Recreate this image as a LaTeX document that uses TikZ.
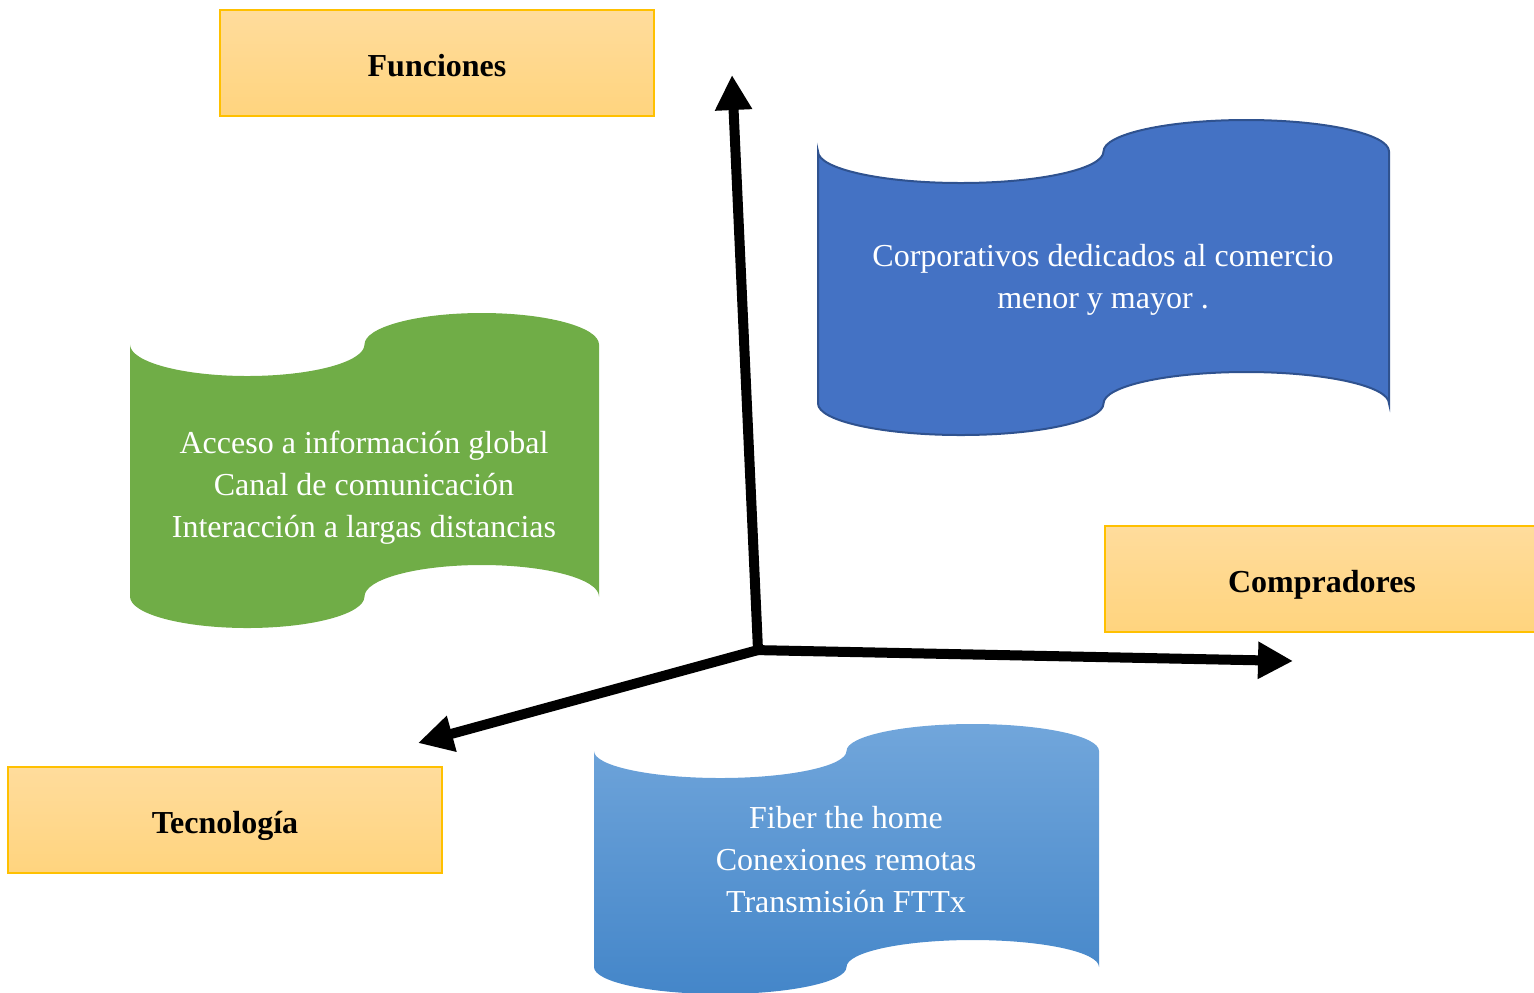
\documentclass[tikz,border=0pt]{standalone}
\usepackage{fontspec}
\setmainfont{Liberation Serif}
\usetikzlibrary{arrows.meta}

\definecolor{labelTop}{HTML}{FFDC9C}
\definecolor{labelBot}{HTML}{FFD47E}
\definecolor{labelEdge}{HTML}{FFC000}
\definecolor{leafGreen}{HTML}{70AD47}
\definecolor{deepBlue}{HTML}{4472C4}
\definecolor{deepBlueEdge}{HTML}{2F528F}
\definecolor{skyTop}{HTML}{71A6DB}
\definecolor{skyBot}{HTML}{4486C9}

% punched-tape banner: #1 style, #2 left, #3 top, #4 width, #5 height (pixel units)
\newcommand\tapebanner[5]{%
  \begin{scope}[shift={(#2,#3)}, x=#4*0.5pt, y=-#5*0.5pt]
    \path[#1] (0,0.1)
      .. controls (0,0.1552) and (0.112,0.2) .. (0.25,0.2)
      .. controls (0.388,0.2) and (0.5,0.1552) .. (0.5,0.1)
      .. controls (0.5,0.0448) and (0.612,0) .. (0.75,0)
      .. controls (0.888,0) and (1,0.0448) .. (1,0.1)
      -- (1,0.9)
      .. controls (1,0.8448) and (0.888,0.8) .. (0.75,0.8)
      .. controls (0.612,0.8) and (0.5,0.8448) .. (0.5,0.9)
      .. controls (0.5,0.9552) and (0.388,1) .. (0.25,1)
      .. controls (0.112,1) and (0,0.9552) .. (0,0.9)
      -- cycle;
  \end{scope}}

\tikzset{
  axislabel/.style={draw=labelEdge, line width=1pt, top color=labelTop,
    bottom color=labelBot, minimum width=217pt, minimum height=53pt,
    inner sep=0pt, text height=13pt, text depth=0pt,
    font=\fontsize{16}{20}\selectfont\bfseries},
  bannertext/.style={text=white, align=center, inner sep=0pt,
    font=\fontsize{16}{21}\selectfont},
  axis/.style={line width=5pt, -{Triangle[length=17.5pt,width=17.5pt]}}
}

\begin{document}
\begin{tikzpicture}[x=0.5pt, y=-0.5pt]
  \useasboundingbox (0,0) rectangle (1534,992);

  % banners
  \tapebanner{fill=leafGreen}{130}{313}{469}{315}
  \tapebanner{fill=deepBlue, draw=deepBlueEdge, line width=1pt}{818}{120}{571}{315}
  \tapebanner{top color=skyTop, bottom color=skyBot}{594}{724}{505}{270}

  \node[bannertext] (uses) at (364,488)
    {Acceso a información global\\Canal de comunicación\\Interacción a largas distancias};
  \node[bannertext] (buyers) at (1103,280)
    {Corporativos dedicados al comercio\\menor y mayor .};
  \node[bannertext] (tech) at (846,860)
    {Fiber the home\\Conexiones remotas\\Transmisión FTTx};

  % axis labels
  \node[axislabel] (funciones) at (437,63) {Funciones};
  \node[axislabel] (compradores) at (1322,579) {Compradores};
  \node[axislabel] (tecnologia) at (225,820) {Tecnología};

  % axes
  \coordinate (origin) at (758,650);
  \coordinate (upEnd) at (732,75);
  \coordinate (rightEnd) at (1293,661);
  \coordinate (leftEnd) at (418,743);
  \draw[axis] (origin) -- (upEnd);
  \draw[axis] ([xshift=-2.5pt]origin) -- (rightEnd);
  \draw[axis] (origin) -- (leftEnd);
\end{tikzpicture}
\end{document}
